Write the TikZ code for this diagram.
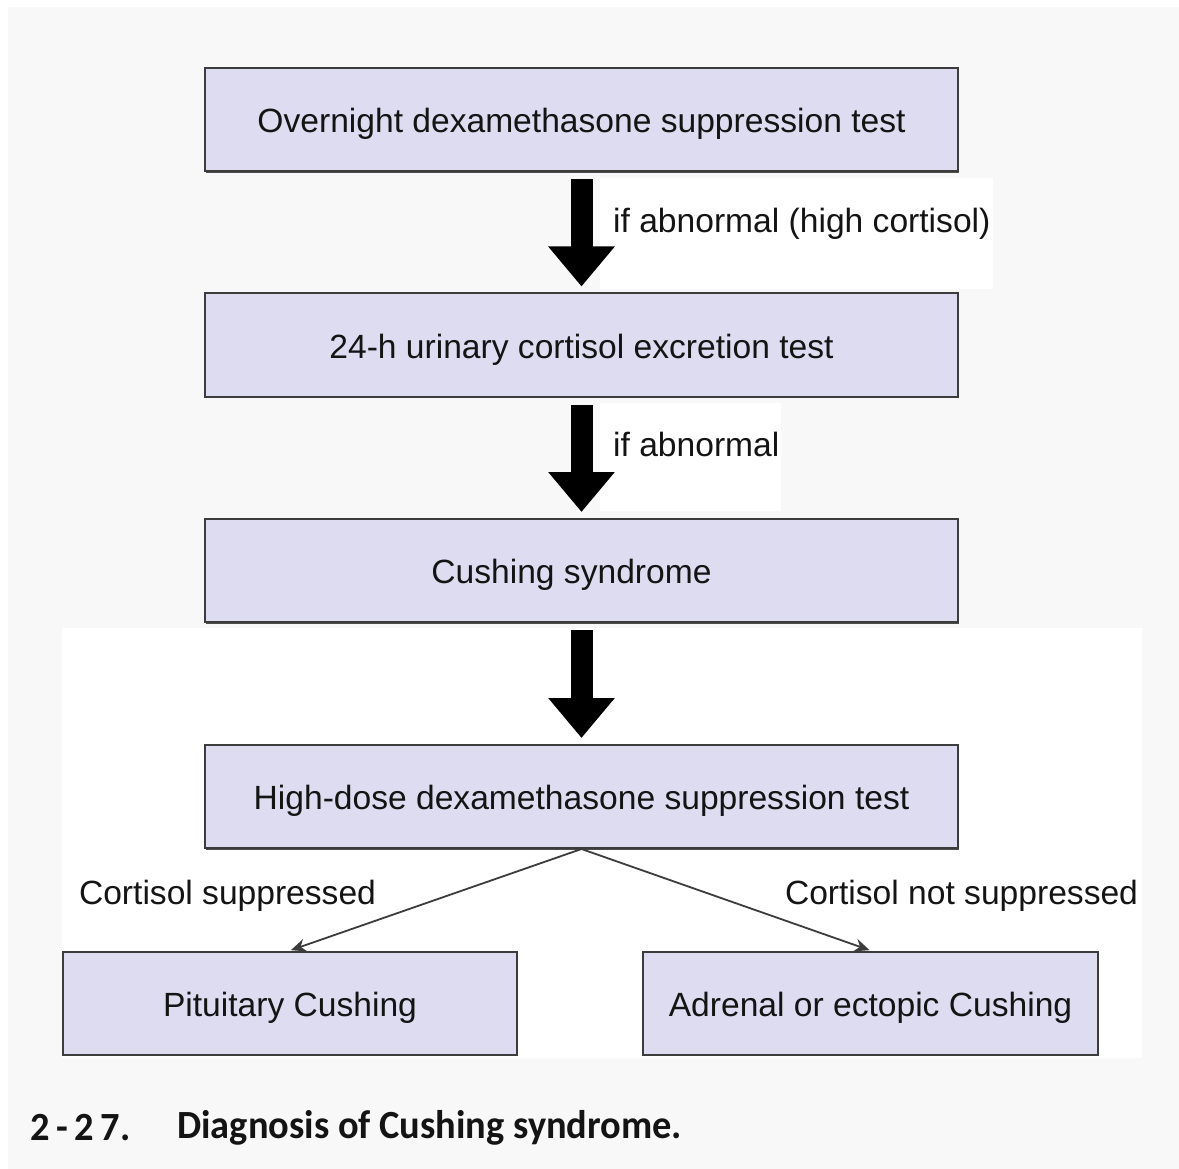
\documentclass[tikz,border=0pt]{standalone}
\usepackage{fontspec}
\setmainfont{Liberation Sans}
\newfontfamily\capfont[FakeStretch=0.96]{Carlito}
\usetikzlibrary{arrows.meta,positioning,shadows}

\definecolor{boxlav}{RGB}{222,220,240}
\definecolor{pagegray}{RGB}{248,248,248}
\definecolor{edgegray}{RGB}{60,60,60}
\definecolor{inkgray}{RGB}{20,20,20}

\tikzset{
  stepbox/.style={draw=edgegray, line width=2pt, fill=boxlav, minimum height=103pt,
    inner sep=0pt, text=inkgray, font=\fontsize{33.6}{40}\selectfont,
    text height=26pt, text depth=0pt,
    drop shadow={shadow xshift=1.2pt, shadow yshift=-1.6pt, fill=black!70, opacity=1}},
  bigarrow/.style={line width=22pt, -{Triangle[width=64pt,length=40pt]},
    shorten <=7pt, shorten >=6pt},
  thinarrow/.style={line width=1.8pt, draw=edgegray,
    -{Stealth[length=15pt,width=13pt]}, shorten >=1pt},
  lbl/.style={font=\fontsize{33.6}{40}\selectfont, text=inkgray, inner sep=0pt,
    text height=26pt, text depth=0pt},
  captxt/.style={font=\capfont\bfseries\fontsize{40}{48}\selectfont, text=inkgray,
    inner sep=0pt, anchor=west}
}

\begin{document}
\begin{tikzpicture}[x=1pt, y=-1pt]
\useasboundingbox (0,0) rectangle (1179,1169);
% page background and the white patches of the scan
\fill[pagegray] (8,7) rectangle (1179,1169);
\fill[white] (62,628) rectangle (1142,1058);
\fill[white] (600,178) rectangle (993,289);
\fill[white] (600,403) rectangle (781,511);

% main column
\node[stepbox, minimum width=753pt] (overnight) at (581.5,120) {Overnight dexamethasone suppression test};
\node[stepbox, minimum width=753pt] (urinary) at (581.5,345) {24-h urinary cortisol excretion test};
\node[stepbox, minimum width=753pt] (cushing) at (581.5,570.5) {\kern-20pt Cushing syndrome};
\node[stepbox, minimum width=753pt] (highdose) at (581.5,796.5) {High-dose dexamethasone suppression test};

\draw[bigarrow] (overnight.south) -- (urinary.north);
\draw[bigarrow] (urinary.south) -- (cushing.north);
\draw[bigarrow] (cushing.south) -- (highdose.north);
\node[lbl, anchor=west] (abnhigh) at (613,220) {if abnormal (high cortisol)};
\node[lbl, anchor=west] (abn) at (613,443) {if abnormal};

% branches
\node[stepbox, minimum width=454pt] (pituitary) at (290,1003) {Pituitary Cushing};
\node[stepbox, minimum width=455pt] (adrenal) at (870.5,1003) {Adrenal or ectopic Cushing};
\draw[thinarrow] (highdose.south) -- (pituitary.north);
\draw[thinarrow] (highdose.south) -- (adrenal.north);
\node[lbl] (suppressed) at (227.5,891) {Cortisol suppressed};
\node[lbl] (notsuppressed) at (961.5,891) {Cortisol not suppressed};

% caption
\node[captxt] (capnum) at (30,1128) {2\,-\,2\,7.};
\node[captxt] (captitle) at (177,1128) {Diagnosis of Cushing syndrome.};
\end{tikzpicture}
\end{document}
